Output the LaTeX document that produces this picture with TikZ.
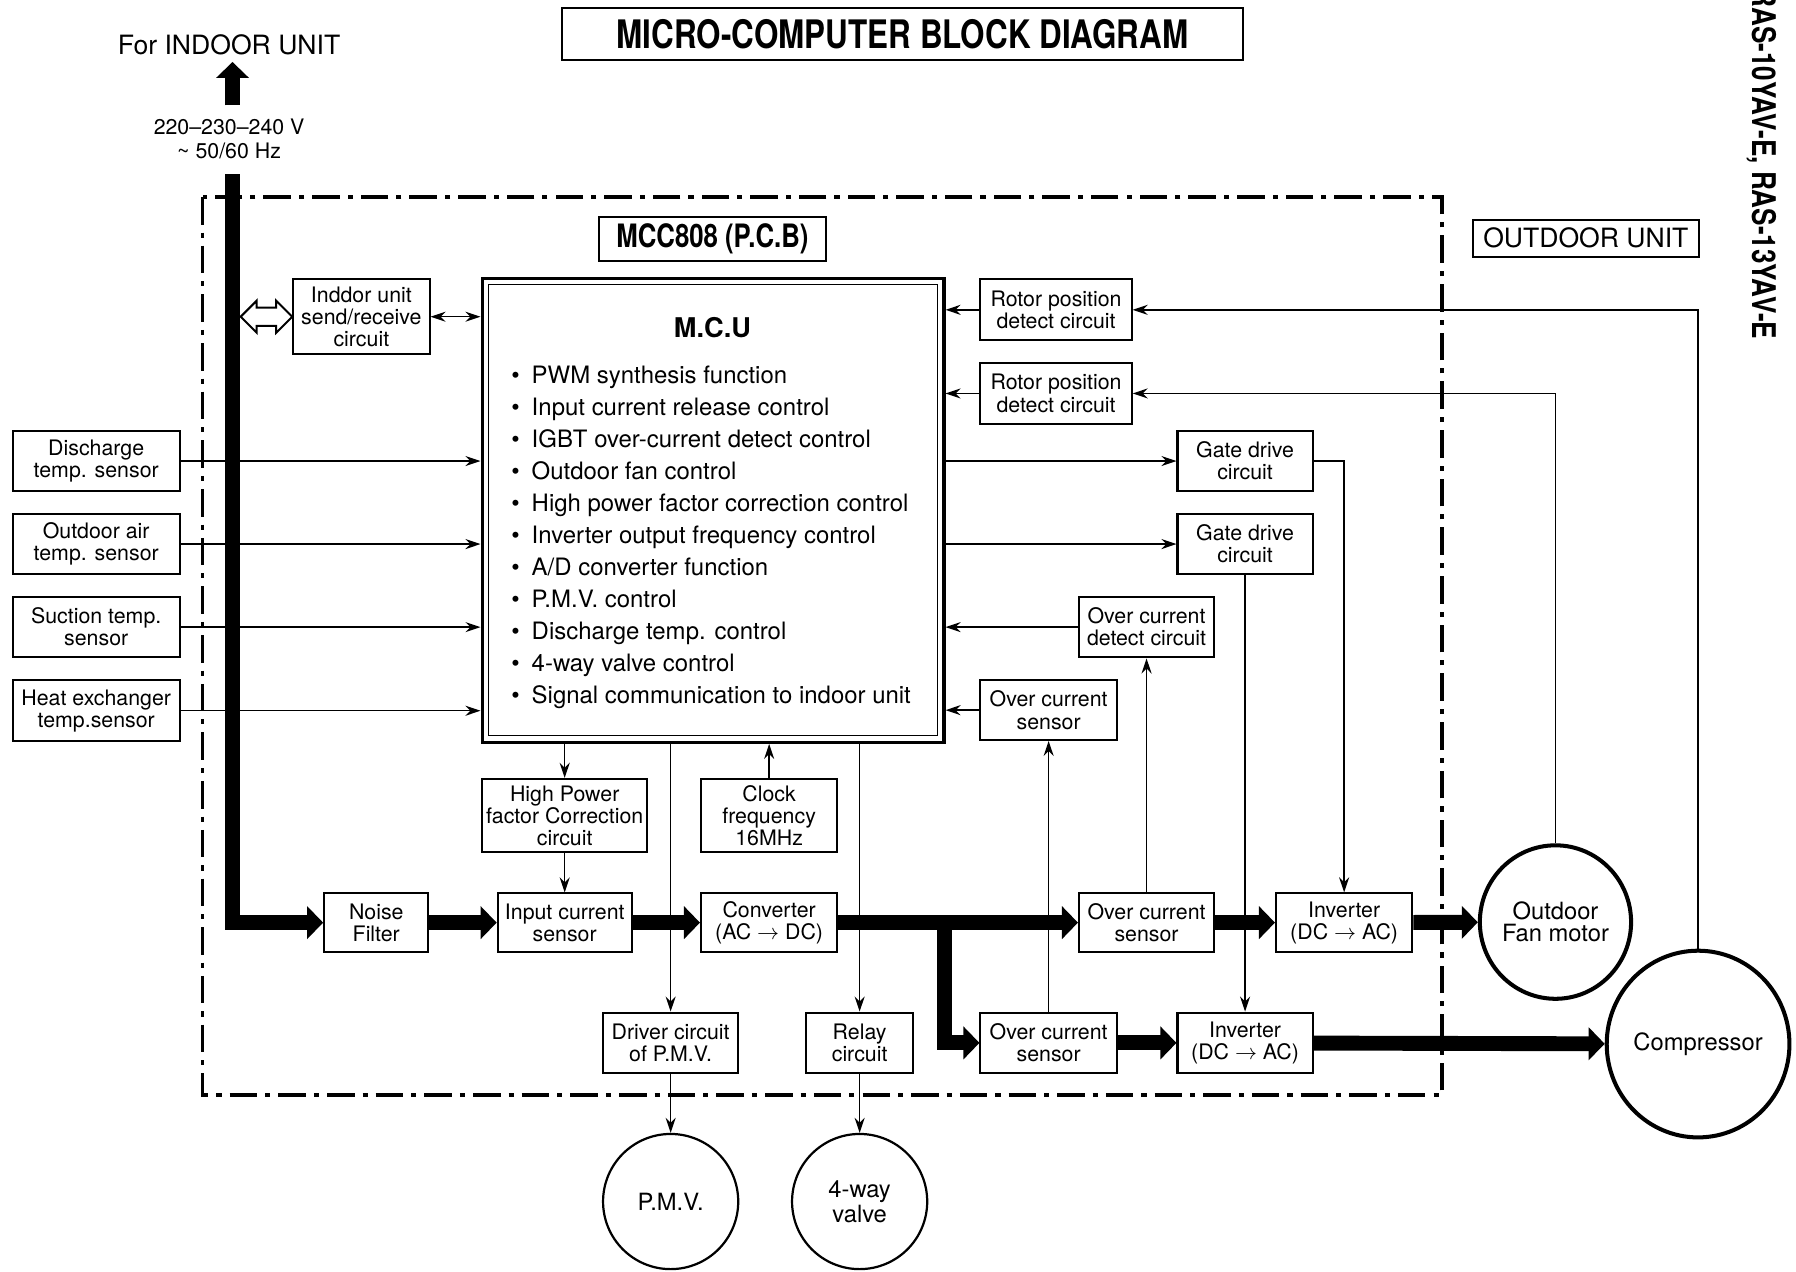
\documentclass[tikz,border=0pt]{standalone}
\usepackage{fontspec}
\setmainfont{TeX Gyre Heros}
\newfontfamily\heroscn[FakeStretch=0.8]{TeX Gyre Heros}
\usetikzlibrary{shapes.geometric, arrows.meta}

\newcommand\bxfont{\fontsize{10.6}{11}\selectfont}
\newcommand\itm{\textbullet\hspace{6pt}}

\begin{document}
\begin{tikzpicture}[x=0.2mm, y=0.2mm,
  blk/.style={rectangle, draw=black, fill=white, line width=1pt, align=center, inner sep=1pt, font=\bxfont},
  motor/.style={ellipse, draw=black, fill=white, line width=2pt, align=center, inner sep=0pt, font=\fontsize{11.8}{10.8}\selectfont},
  valve/.style={circle, draw=black, fill=white, line width=1.1pt, align=center, inner sep=0pt, minimum size=2.36cm, font=\fontsize{11.8}{10.8}\selectfont},
  sig/.style={line width=0.7pt},
  pwr/.style={line width=0.26cm, line join=miter, -{Triangle[length=0.28cm,width=0.56cm]}},
  >={Stealth[length=7.5pt,width=5pt,inset=2.5pt]}]
\useasboundingbox (0,0) rectangle (1568,-1110);

% outdoor unit frame
\draw[line width=1.7pt, dash pattern=on 0.48cm off 0.14cm on 0.09cm off 0.14cm] (177,-172) rectangle (1259,-956);

% headings
\node[draw=black, line width=1pt, minimum width=11.88cm, minimum height=0.9cm, font=\heroscn\bfseries\fontsize{19.5}{20}\selectfont] (title) at (788,-29.5) {MICRO-COMPUTER BLOCK DIAGRAM};
\node[font=\fontsize{13.2}{14}\selectfont] (forin) at (200,-39) {For INDOOR UNIT};
\node[align=center, font=\fontsize{10.6}{12}\selectfont] (volt) at (200,-121.5) {220--230--240 V\\\textasciitilde\ 50/60 Hz};
\node[draw=black, line width=1pt, minimum width=3.96cm, minimum height=0.62cm, font=\heroscn\bfseries\fontsize{16}{17}\selectfont] (pcb) at (622,-208.5) {MCC808 (P.C.B)};
\node[draw=black, line width=1pt, minimum width=3.94cm, minimum height=0.64cm, font=\fontsize{13.2}{14}\selectfont] (outu) at (1384.5,-208) {OUTDOOR UNIT};
\node[rotate=-90, font=\heroscn\bfseries\fontsize{16.2}{17}\selectfont] (model) at (1538,-143) {RAS-10YAV-E, RAS-13YAV-E};

% M.C.U
\node[draw=black, line width=1.7pt, minimum width=8.06cm, minimum height=8.1cm] (mcu) at (622.5,-445.5) {};
\draw[line width=0.5pt] ([shift={(7,-7)}]mcu.north west) rectangle ([shift={(-7,7)}]mcu.south east);
\node[font=\bfseries\fontsize{13.5}{14}\selectfont] (mcut) at (622,-286) {M.C.U};
\node[anchor=north west, align=left, inner sep=0pt, font=\fontsize{11.9}{15.9}\selectfont] (mcul) at (446,-319) {\itm PWM synthesis function\\
\itm Input current release control\\
\itm IGBT over-current detect control\\
\itm Outdoor fan control\\
\itm High power factor correction control\\
\itm Inverter output frequency control\\
\itm A/D converter function\\
\itm P.M.V. control\\
\itm Discharge temp. control\\
\itm 4-way valve control\\
\itm Signal communication to indoor unit};

% blocks
\node[blk, minimum width=2.38cm, minimum height=1.3cm] (indoor) at (315.5,-276.5) {Inddor unit\\send/receive\\circuit};
\node[blk, minimum width=2.92cm, minimum height=1.06cm] (dis) at (84,-402.5) {Discharge\\temp. sensor};
\node[blk, minimum width=2.92cm, minimum height=1.06cm] (oat) at (84,-475) {Outdoor air\\temp. sensor};
\node[blk, minimum width=2.92cm, minimum height=1.06cm] (suc) at (84,-547.5) {Suction temp.\\sensor};
\node[blk, minimum width=2.92cm, minimum height=1.06cm] (hex) at (84,-620.5) {Heat exchanger\\temp.sensor};
\node[blk, minimum width=2.64cm, minimum height=1.06cm] (rp1) at (922,-270.5) {Rotor position\\detect circuit};
\node[blk, minimum width=2.64cm, minimum height=1.06cm] (rp2) at (922,-343.5) {Rotor position\\detect circuit};
\node[blk, minimum width=2.36cm, minimum height=1.06cm] (gd1) at (1087,-402.5) {Gate drive\\circuit};
\node[blk, minimum width=2.36cm, minimum height=1.06cm] (gd2) at (1087,-475) {Gate drive\\circuit};
\node[blk, minimum width=2.36cm, minimum height=1.06cm] (ocd) at (1001,-547.5) {Over current\\detect circuit};
\node[blk, minimum width=2.38cm, minimum height=1.04cm] (ocsr) at (915.5,-620) {Over current\\sensor};
\node[blk, minimum width=2.88cm, minimum height=1.28cm] (hpfc) at (493,-712) {High Power\\factor Correction\\circuit};
\node[blk, minimum width=2.38cm, minimum height=1.28cm] (clk) at (671.5,-712) {Clock\\frequency\\16MHz};
\node[blk, minimum width=1.82cm, minimum height=1.02cm] (nf) at (328.5,-805.5) {Noise\\Filter};
\node[blk, minimum width=2.34cm, minimum height=1.02cm] (ics) at (493,-805.5) {Input current\\sensor};
\node[blk, minimum width=2.38cm, minimum height=1.02cm] (conv) at (671.5,-805.5) {Converter\\(AC $\rightarrow$ DC)};
\node[blk, minimum width=2.36cm, minimum height=1.02cm] (ocs1) at (1001,-805.5) {Over current\\sensor};
\node[blk, minimum width=2.38cm, minimum height=1.02cm] (inv1) at (1173.5,-805.5) {Inverter\\(DC $\rightarrow$ AC)};
\node[blk, minimum width=2.36cm, minimum height=1.06cm] (drv) at (585.5,-910.5) {Driver circuit\\of P.M.V.};
\node[blk, minimum width=1.86cm, minimum height=1.06cm] (rly) at (750.5,-910.5) {Relay\\circuit};
\node[blk, minimum width=2.38cm, minimum height=1.06cm] (ocs2) at (915.5,-910.5) {Over current\\sensor};
\node[blk, minimum width=2.36cm, minimum height=1.06cm] (inv2) at (1087,-910.5) {Inverter\\(DC $\rightarrow$ AC)};

% loads
\node[motor, minimum width=2.6cm, minimum height=2.68cm] (fan) at (1358,-805) {Outdoor\\Fan motor};
\node[motor, minimum width=3.18cm, minimum height=3.26cm] (comp) at (1482.5,-911.5) {Compressor};
\node[valve] (pmv) at (585.5,-1049) {P.M.V.};
\node[valve] (fwv) at (750.5,-1049) {4-way\\valve};

% signal lines
\draw[sig,->] (dis) -- (dis -| mcu.west);
\draw[sig,->] (oat) -- (oat -| mcu.west);
\draw[sig,->] (suc) -- (suc -| mcu.west);
\draw[sig,->] (hex) -- (hex -| mcu.west);
\draw[sig,<->] (indoor) -- (indoor -| mcu.west);
\draw[sig,->] (rp1) -- (rp1 -| mcu.east);
\draw[sig,->] (rp2) -- (rp2 -| mcu.east);
\draw[sig,->] (mcu.east |- gd1) -- (gd1);
\draw[sig,->] (mcu.east |- gd2) -- (gd2);
\draw[sig,->] (ocd) -- (ocd -| mcu.east);
\draw[sig,->] (ocsr) -- (ocsr -| mcu.east);
\draw[sig,->] (comp.north) |- (rp1);
\draw[sig,->] (fan.north) |- (rp2);
\draw[sig,->] (gd1.east) -| (inv1.north);
\draw[sig,->] (gd2) -- (inv2);
\draw[sig,->] (ocs1) -- (ocd);
\draw[sig,->] (ocs2) -- (ocsr);
\draw[sig,->] (mcu.south -| hpfc) -- (hpfc);
\draw[sig,->] (hpfc) -- (ics);
\draw[sig,->] (clk) -- (clk |- mcu.south);
\draw[sig,->] (mcu.south -| drv) -- (drv);
\draw[sig,->] (mcu.south -| rly) -- (rly);
\draw[sig,->] (drv) -- (pmv);
\draw[sig,->] (rly) -- (fwv);

% hollow two-way arrow to the indoor unit
\draw[line width=1pt, fill=white, line join=miter] (indoor.west) -- ++(-14,14) -- ++(0,-6) -- ++(-17,0) -- ++(0,6) -- ++(-14,-14) -- ++(14,-14) -- ++(0,6) -- ++(17,0) -- ++(0,-6) -- cycle;

% power lines
\coordinate (mains) at (203,-152);
\coordinate (upfoot) at (203,-92);
\coordinate (tee) at (824.5,-805.5);
\draw[pwr] (upfoot) -- (upfoot |- forin.south);
\draw[pwr] (mains) |- (nf);
\draw[pwr] (nf) -- (ics);
\draw[pwr] (ics) -- (conv);
\draw[pwr] (conv) -- (ocs1);
\draw[pwr] (ocs1) -- (inv1);
\draw[pwr] (inv1) -- (fan);
\draw[pwr] (tee) |- (ocs2);
\draw[pwr] (ocs2) -- (inv2);
\draw[pwr] (inv2) -- (comp);
\end{tikzpicture}
\end{document}
